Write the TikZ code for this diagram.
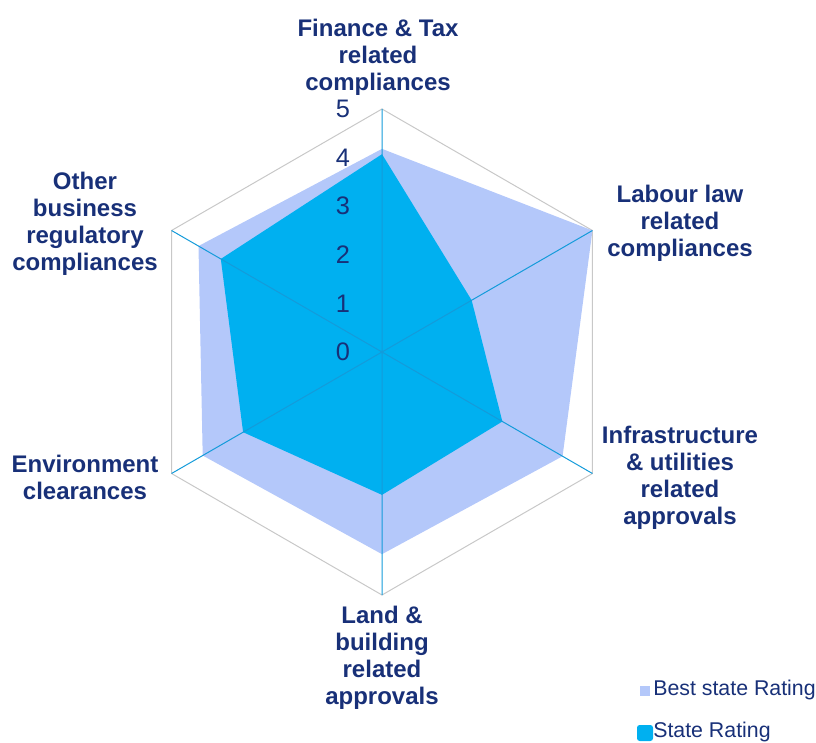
\documentclass[tikz,border=0pt]{standalone}
\usepackage{fontspec}
\setmainfont{Liberation Sans}
\definecolor{navy}{RGB}{24,48,120}
\definecolor{bestfill}{RGB}{180,200,250}
\definecolor{statefill}{RGB}{0,176,240}
\definecolor{spoke}{RGB}{20,155,218}
\definecolor{rim}{RGB}{200,200,200}

\begin{document}
\begin{tikzpicture}[x=0.75pt,y=0.75pt,
    catlabel/.style={text=navy, font=\fontsize{18}{20.3}\selectfont\bfseries, align=center},
    ticklabel/.style={text=navy, font=\fontsize{19}{21}\selectfont},
    legtext/.style={text=navy, font=\fontsize{16}{18}\selectfont, anchor=base west, inner sep=0pt}]
    \useasboundingbox (-382,-390) rectangle (434,352);
    \def\R{48.6}
    % axes ends
    \coordinate (c) at (0,0);
    \coordinate (v1) at (90:{5*\R});
    \coordinate (v2) at (30:{5*\R});
    \coordinate (v3) at (-30:{5*\R});
    \coordinate (v4) at (-90:{5*\R});
    \coordinate (v5) at (210:{5*\R});
    \coordinate (v6) at (150:{5*\R});
    % outer ring
    \draw[rim, line width=0.75pt] (v1) -- (v2) -- (v3) -- (v4) -- (v5) -- (v6) -- cycle;
    % series
    \fill[bestfill] (90:{4.18*\R}) -- (30:{5*\R}) -- (-30:{4.29*\R}) -- (-90:{4.16*\R})
        -- (210:{4.26*\R}) -- (150:{4.36*\R}) -- cycle;
    \fill[statefill] (90:{4.07*\R}) -- (30:{2.13*\R}) -- (-30:{2.86*\R}) -- (-90:{2.94*\R})
        -- (210:{3.3*\R}) -- (150:{3.83*\R}) -- cycle;
    % spokes
    \draw[spoke, line width=0.75pt] (c) -- (v1) (c) -- (v2) (c) -- (v3)
        (c) -- (v4) (c) -- (v5) (c) -- (v6);
    % scale
    \node[ticklabel] (t0) at (-39,0) {0};
    \node[ticklabel] (t1) at (-39,{1*\R}) {1};
    \node[ticklabel] (t2) at (-39,{2*\R}) {2};
    \node[ticklabel] (t3) at (-39,{3*\R}) {3};
    \node[ticklabel] (t4) at (-39,{4*\R}) {4};
    \node[ticklabel] (t5) at (-39,{5*\R}) {5};
    % categories
    \node[catlabel] (fin) at (-4,295) {Finance \& Tax\\related\\compliances};
    \node[catlabel] (lab) at (298,129) {Labour law\\related\\compliances};
    \node[catlabel] (inf) at (298,-126) {Infrastructure\\\& utilities\\related\\approvals};
    \node[catlabel] (lnd) at (0,-306) {Land \&\\building\\related\\approvals};
    \node[catlabel] (env) at (-297,-125) {Environment\\clearances};
    \node[catlabel] (oth) at (-297,128) {Other\\business\\regulatory\\compliances};
    % legend
    \node[fill=bestfill, inner sep=0pt, minimum size=7.5pt] (bestkey) at (263,-339) {};
    \node[legtext] (besttxt) at (271,-343) {Best state Rating};
    \node[fill=statefill, inner sep=0pt, minimum size=12pt, rounded corners=2pt] (statekey) at (263,-381) {};
    \node[legtext] (statetxt) at (271,-385) {State Rating};
\end{tikzpicture}
\end{document}
